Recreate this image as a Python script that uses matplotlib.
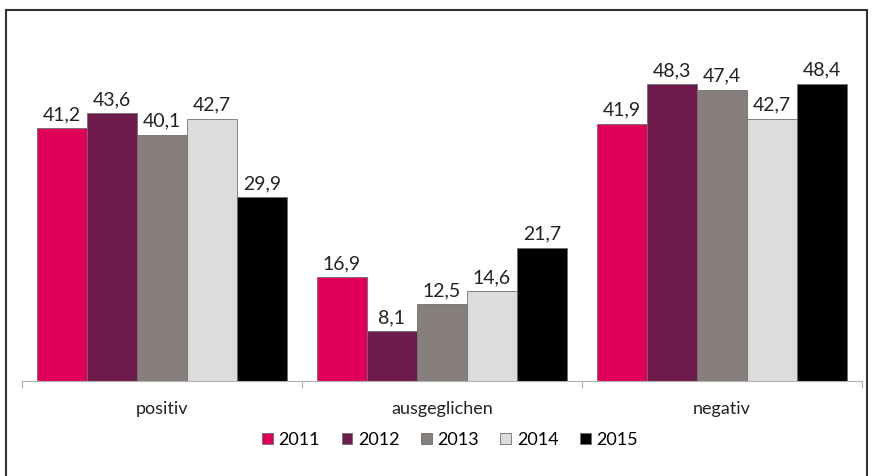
import numpy as np
import matplotlib.pyplot as plt
from matplotlib.patches import Rectangle

plt.rcParams['font.family'] = ['Lato', 'DejaVu Sans']

categories = ["positiv", "ausgeglichen", "negativ"]
years = ["2011", "2012", "2013", "2014", "2015"]
values = {
    "2011": [41.2, 16.9, 41.9],
    "2012": [43.6, 8.1, 48.3],
    "2013": [40.1, 12.5, 47.4],
    "2014": [42.7, 14.6, 42.7],
    "2015": [29.9, 21.7, 48.4],
}
colors = ["#E0005A", "#6E1A4A", "#867F7B", "#DDDCDC", "#000000"]

fig = plt.figure(figsize=(8.75, 4.76), dpi=100)
ax = fig.add_axes([22 / 875, 95 / 476, 840 / 875, 330 / 476])

w = 0.1786
x = np.arange(len(categories))
for i, (yr, c) in enumerate(zip(years, colors)):
    pos = x - 2 * w + i * w
    bars = ax.bar(pos, values[yr], width=w, color=c, edgecolor="#6f6f6f",
                  linewidth=0.6, label=yr)
    for b, v in zip(bars, values[yr]):
        ax.text(b.get_x() + w / 2, v + 0.8, f"{v:.1f}".replace(".", ","),
                ha="center", va="bottom", fontsize=14, color="#222222")

ax.set_xlim(-0.5, 2.5)
ax.set_ylim(0, 53.7)
for s in ["top", "right", "left"]:
    ax.spines[s].set_visible(False)
ax.spines["bottom"].set_color("#b0b0b0")
ax.set_yticks([])
ax.set_xticks([-0.5, 0.5, 1.5, 2.5], minor=False)
ax.set_xticklabels([])
ax.tick_params(axis="x", length=5, color="#b0b0b0")
for xi, cat in zip(x, categories):
    ax.text(xi, -0.085, cat, transform=ax.get_xaxis_transform(),
            ha="center", va="center", fontsize=13, color="#222222")

leg = fig.legend(loc="center", bbox_to_anchor=(450 / 875, 1 - 440 / 476),
                 ncol=5, frameon=False, fontsize=13, handlelength=0.6,
                 handleheight=0.6, handletextpad=0.3, columnspacing=1.2)

fig.patches.append(Rectangle((6 / 875, -0.05), 861 / 875, 1 - 10 / 476 + 0.05,
                             transform=fig.transFigure, fill=False,
                             edgecolor="#333333", linewidth=1.5))

fig.savefig("out.png", dpi=100)
